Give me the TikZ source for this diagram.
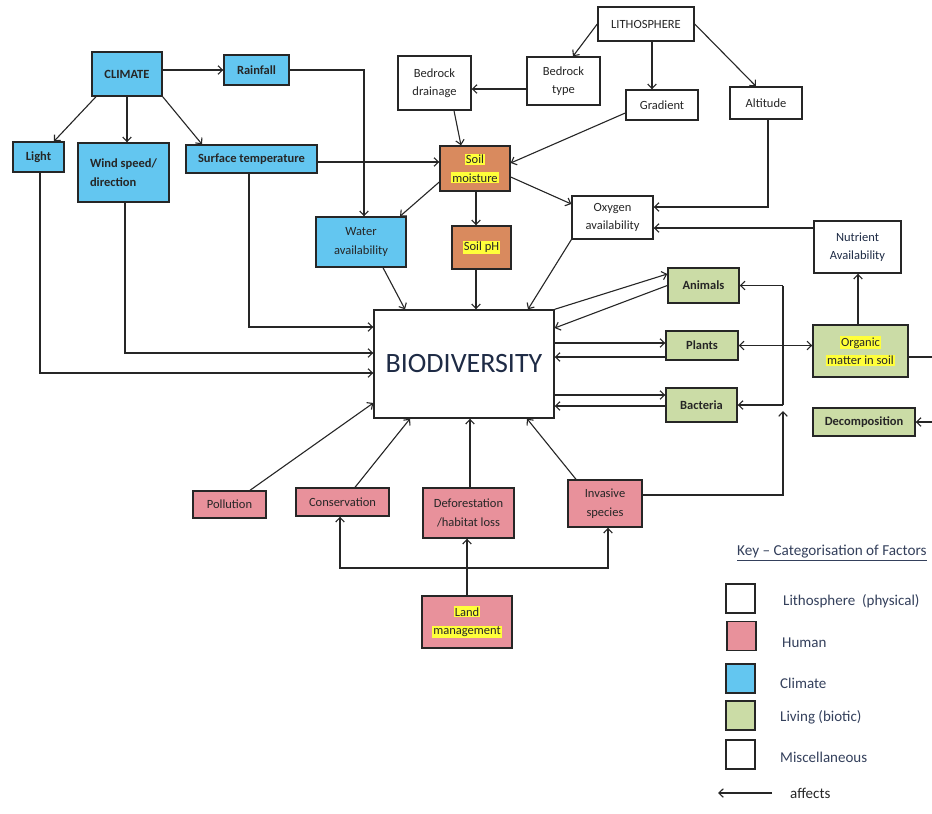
\documentclass[tikz,border=0pt]{standalone}
\usepackage{fontspec}
\setmainfont{Carlito}
\usetikzlibrary{arrows.meta,calc}
\definecolor{cblue}{HTML}{63C6F0}
\definecolor{cbrown}{HTML}{D98A5E}
\definecolor{cpink}{HTML}{E8919B}
\definecolor{cgreen}{HTML}{CBDCA6}
\definecolor{hly}{HTML}{FFFF3A}
\definecolor{ink}{HTML}{262626}
\definecolor{navy}{HTML}{1E2B45}
\definecolor{keyc}{HTML}{34405C}
\newcommand{\hlt}[1]{{\setlength{\fboxsep}{1pt}\colorbox{hly}{#1}}}
\begin{document}
\begin{tikzpicture}[x=1pt,y=-1pt,
  box/.style={draw=ink, line width=1.4pt, align=center, inner sep=1pt,
    font=\fontsize{12.5}{18.5}\selectfont, text=ink},
  bbox/.style={box, font=\fontsize{12.5}{18.5}\selectfont\bfseries},
  arr/.style={draw=ink, line width=1.1pt, -{Straight Barb[length=4.5pt,width=8.5pt]}},
  arrtwo/.style={draw=ink, line width=1.1pt, {Straight Barb[length=4.5pt,width=8.5pt]}-{Straight Barb[length=4.5pt,width=8.5pt]}},
  ln/.style={draw=ink, line width=1.1pt},
  keybox/.style={draw=ink, line width=1.8pt, minimum width=29pt, minimum height=29pt, inner sep=0pt},
  keytxt/.style={anchor=west, text=keyc, font=\fontsize{15}{18}\selectfont, inner sep=0pt}
]
\useasboundingbox (0,0) rectangle (932,814);
\fill[white] (0,0) rectangle (932,814);

% climate group
\node[bbox,fill=cblue,minimum width=70pt,minimum height=44pt] (climate) at (127,74) {CLIMATE};
\node[bbox,fill=cblue,minimum width=65pt,minimum height=30pt] (rainfall) at (256.5,70) {Rainfall};
\node[bbox,fill=cblue,minimum width=51pt,minimum height=30pt] (light) at (38.5,157) {Light};
\node[bbox,fill=cblue,minimum width=91pt,minimum height=59pt,align=left] (wind) at (123.5,172.5) {Wind speed/\\direction};
\node[bbox,fill=cblue,minimum width=131pt,minimum height=28pt] (surf) at (251.5,159) {Surface temperature};
\node[box,fill=cblue,minimum width=90pt,minimum height=50pt] (water) at (361,242) {Water\\availability};

% lithosphere group
\node[box,fill=white,minimum width=73pt,minimum height=54pt] (bdrain) at (434.5,83) {Bedrock\\drainage};
\node[box,fill=white,minimum width=73pt,minimum height=48pt] (btype) at (563.5,81) {Bedrock\\type};
\node[box,fill=white,minimum width=96pt,minimum height=34pt] (litho) at (646,24) {LITHOSPHERE};
\node[box,fill=white,minimum width=72pt,minimum height=30pt] (grad) at (662,105) {Gradient};
\node[box,fill=white,minimum width=72pt,minimum height=32pt] (alt) at (766,103) {Altitude};
\node[box,fill=cbrown,minimum width=70pt,minimum height=45pt] (smoist) at (475,168.5) {\hlt{Soil}\\\hlt{moisture}};
\node[box,fill=cbrown,minimum width=59pt,minimum height=43pt] (spH) at (481.5,247.5) {\hlt{Soil pH}};
\node[box,fill=white,minimum width=81pt,minimum height=43pt] (oxy) at (612.5,217.5) {Oxygen\\availability};
\node[box,fill=white,minimum width=87pt,minimum height=52pt,text=navy] (nutr) at (857.5,247) {Nutrient\\Availability};

% centre
\node[draw=ink,line width=1.4pt,fill=white,minimum width=180pt,minimum height=108pt,text=navy,
      font=\fontsize{28}{30}\selectfont] (bio) at (464,364) {BIODIVERSITY};

% living
\node[bbox,fill=cgreen,minimum width=71pt,minimum height=35pt] (animals) at (703.5,285.5) {Animals};
\node[bbox,fill=cgreen,minimum width=72pt,minimum height=29pt] (plants) at (702,345.5) {Plants};
\node[bbox,fill=cgreen,minimum width=71pt,minimum height=34pt] (bact) at (701.5,405) {Bacteria};
\node[box,fill=cgreen,minimum width=95pt,minimum height=52pt] (organic) at (860.5,351) {\hlt{Organic}\\\hlt{matter in soil}};
\node[bbox,fill=cgreen,minimum width=102pt,minimum height=28pt] (decomp) at (864,422) {Decomposition};

% human
\node[box,fill=cpink,minimum width=73pt,minimum height=27pt] (poll) at (229.5,504.5) {Pollution};
\node[box,fill=cpink,minimum width=93pt,minimum height=28pt] (cons) at (342.5,502) {Conservation};
\node[box,fill=cpink,minimum width=91pt,minimum height=50pt] (defor) at (468.5,513) {Deforestation\\/habitat loss};
\node[box,fill=cpink,minimum width=74pt,minimum height=47pt] (inv) at (605,503.5) {Invasive\\species};
\node[box,fill=cpink,minimum width=90pt,minimum height=52pt] (land) at (467,622) {\hlt{Land}\\\hlt{management}};

% climate connectors
\draw[arr] (climate.east |- rainfall.west) -- (rainfall.west);
\draw[arr] (rainfall.east) -| (water.north -| 364,0);
\draw[arr] (climate.south west -| 96,0) -- (light.north -| 54,0);
\draw[arr] (climate.south) -- (climate.south |- wind.north);
\draw[arr] (climate.south east) -- (surf.north -| 202,0);
\draw[arr] (surf.east |- 0,162) -- (smoist.west |- 0,162);
\draw[arr] (light.south -| 40,0) |- (bio.west |- 0,373);
\draw[arr] (wind.south -| 125,0) |- (bio.west |- 0,353);
\draw[arr] (surf.south -| 249,0) |- (bio.west |- 0,327);
\draw[arr] (water.south -| 383,0) -- (bio.north -| 405,0);

% lithosphere connectors
\draw[arr] (litho.west) -- (btype.north -| 573,0);
\draw[arr] (litho.south -| 652,0) -- (grad.north -| 652,0);
\draw[arr] (litho.east) -- (alt.north -| 756,0);
\draw[arr] (btype.west |- 0,89) -- (bdrain.east |- 0,89);
\draw[arr] (bdrain.south -| 454,0) -- (smoist.north -| 461,0);
\draw[arr] (grad.west |- 0,113) -- (smoist.east |- 0,163);
\draw[arr] (smoist.west |- 0,182) -- (water.north -| 400,0);
\draw[arr] (smoist.south -| 476,0) -- (spH.north -| 476,0);
\draw[arr] (smoist.east |- 0,177) -- (oxy.west |- 0,204);
\draw[arr] (alt.south -| 768,0) |- (oxy.east |- 0,207);
\draw[arr] (nutr.west |- 0,228) -- (oxy.east |- 0,228);
\draw[arr] (oxy.south west) -- (bio.north -| 528,0);
\draw[arr] (spH.south -| 476,0) -- (bio.north -| 476,0);

% living connectors
\draw[arr] (bio.north east) -- (animals.west |- 0,274);
\draw[arr] (animals.west) -- (bio.east |- 0,328);
\draw[arr] (bio.east |- 0,343) -- (plants.west |- 0,343);
\draw[arr] (plants.west |- 0,357) -- (bio.east |- 0,357);
\draw[arr] (bio.east |- 0,395) -- (bact.west |- 0,395);
\draw[arr] (bact.west |- 0,406) -- (bio.east |- 0,406);
\coordinate (jA) at (783,285.5);
\coordinate (jB) at (783,405);
\coordinate (jI) at (783,411);
\draw[ln] (jB) -- (jA);
\draw[arr] (jA) -- (animals.east);
\draw[arr] (jB) -- (bact.east);
\draw[arr] (inv.east |- 0,495) -| (jI);
\draw[arrtwo] (plants.east) -- (organic.west |- plants.east);
\draw[arr] (organic.north -| 858,0) -- (nutr.south -| 858,0);
\coordinate (eO) at (932,357);
\coordinate (eD) at (932,422);
\draw[ln] (organic.east |- eO) -- (eO);
\draw[arr] (eD) -- (decomp.east);

% human connectors
\draw[arr] (poll.north -| 250,0) -- (bio.west |- 0,403);
\draw[arr] (cons.north -| 355,0) -- (bio.south -| 410,0);
\draw[arr] (defor.north -| 470,0) -- (bio.south -| 470,0);
\draw[arr] (inv.north -| 576,0) -- (bio.south -| 527,0);
\draw[arr] (land.north -| 467,0) -- (defor.south -| 467,0);
\coordinate (jL) at (467,568);
\draw[arr] (jL) -| (cons.south -| 340,0);
\draw[arr] (jL) -| (inv.south -| 608,0);

% key
\node[keytxt,font=\fontsize{15.2}{18}\selectfont] (keyt) at (737,553) {\underline{Key – Categorisation of Factors}};
\node[keybox,fill=white] (k1) at (740.5,598.5) {};
\node[keybox,fill=cpink] (k2) at (741.5,636) {};
\node[keybox,fill=cblue] (k3) at (740.5,678.5) {};
\node[keybox,fill=cgreen] (k4) at (740.5,715.5) {};
\node[keybox,fill=white] (k5) at (740.5,754.5) {};
\node[keytxt] (t1) at (783,601) {Lithosphere \ (physical)};
\node[keytxt] (t2) at (782,643) {Human};
\node[keytxt] (t3) at (780,683) {Climate};
\node[keytxt] (t4) at (780,717) {Living (biotic)};
\node[keytxt] (t5) at (780,757) {Miscellaneous};
\node[keytxt,text=ink] (t6) at (790,793) {affects};
\coordinate (aR) at (772,793);
\coordinate (aL) at (718,793);
\draw[arr] (aR) -- (aL);
\end{tikzpicture}
\end{document}
